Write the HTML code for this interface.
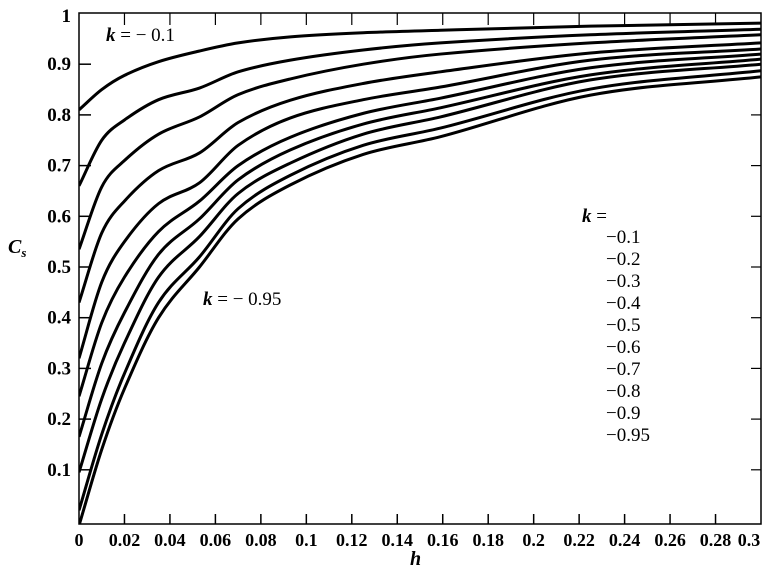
<!DOCTYPE html>
<html><head><meta charset="utf-8"><style>
body{margin:0;background:#fff}
svg{display:block;font-family:"Liberation Serif",serif}
</style></head><body>
<svg id="chart" width="771" height="575" xmlns="http://www.w3.org/2000/svg">
<defs><clipPath id="pc"><rect x="79" y="13" width="682" height="511"/></clipPath></defs>
<rect x="79" y="13" width="682" height="511" fill="none" stroke="#000" stroke-width="1.5"/>
<g id="axes"></g>
<g id="series" clip-path="url(#pc)"></g>
<text x="8" y="253" font-size="20" font-style="italic" font-weight="bold">C<tspan font-size="13" dy="4">s</tspan></text>
<text x="410" y="565" font-size="20" font-style="italic" font-weight="bold">h</text>
<text x="106" y="41" font-size="19"><tspan font-style="italic" font-weight="bold">k</tspan> = − 0.1</text>
<text x="203" y="305" font-size="19"><tspan font-style="italic" font-weight="bold">k</tspan> = − 0.95</text>
<g id="legend" font-size="19">
<text x="582" y="222"><tspan font-style="italic" font-weight="bold">k</tspan> =</text>
</g>
</svg>
<script>
const hValues=[0,0.01,0.02,0.035,0.053,0.07,0.093,0.125,0.159,0.225,0.3];
const kLabels=["−0.1","−0.2","−0.3","−0.4","−0.5","−0.6","−0.7","−0.8","−0.9","−0.95"];
const sK01=[0.81,0.85,0.878,0.905,0.926,0.942,0.954,0.962,0.967,0.975,0.981];
const sK02=[0.66,0.75,0.79,0.83,0.853,0.885,0.908,0.928,0.942,0.958,0.969];
const sK03=[0.535,0.658,0.71,0.762,0.796,0.84,0.871,0.9,0.92,0.942,0.958];
const sK04=[0.43,0.567,0.63,0.69,0.725,0.785,0.829,0.862,0.885,0.922,0.942];
const sK05=[0.32,0.47,0.55,0.625,0.666,0.74,0.794,0.83,0.855,0.908,0.93];
const sK06=[0.245,0.39,0.48,0.57,0.63,0.7,0.756,0.803,0.833,0.893,0.92];
const sK07=[0.165,0.31,0.41,0.525,0.595,0.672,0.731,0.782,0.814,0.879,0.91];
const sK08=[0.095,0.24,0.35,0.48,0.56,0.645,0.705,0.762,0.796,0.869,0.9];
const sK09=[0.02,0.17,0.29,0.43,0.52,0.615,0.681,0.74,0.774,0.851,0.887];
const sK095=[-0.01,0.14,0.26,0.4,0.5,0.595,0.662,0.722,0.757,0.839,0.875];
const seriesList=[sK01,sK02,sK03,sK04,sK05,sK06,sK07,sK08,sK09,sK095];
const xTicks=[0,0.02,0.04,0.06,0.08,0.1,0.12,0.14,0.16,0.18,0.2,0.22,0.24,0.26,0.28,0.3];
const xTickLabels=["0","0.02","0.04","0.06","0.08","0.1","0.12","0.14","0.16","0.18","0.2","0.22","0.24","0.26","0.28","0.3"];
const yTicks=[0.1,0.2,0.3,0.4,0.5,0.6,0.7,0.8,0.9,1];
const yTickLabels=["0.1","0.2","0.3","0.4","0.5","0.6","0.7","0.8","0.9","1"];

const NS="http://www.w3.org/2000/svg";
const X=h=>79+h*(682/0.3);
const Y=v=>520.5-v*507;
function mk(tag,attrs,parent){const e=document.createElementNS(NS,tag);for(const k in attrs)e.setAttribute(k,attrs[k]);parent.appendChild(e);return e;}
const axes=document.getElementById('axes');
xTicks.forEach((t,i)=>{
  const x=X(t);
  if(i>0&&i<xTicks.length-1){
    const a=mk('line',{x1:x,y1:524,x2:x,y2:514,stroke:'#000','stroke-width':1.5},axes);
    
    
    const b=mk('line',{x1:x,y1:13,x2:x,y2:25,stroke:'#000','stroke-width':1.2},axes);
    
    
  }
  const tx=mk('text',{x:i===xTicks.length-1?x-12:x,y:546,'font-size':18,'font-weight':'bold','text-anchor':'middle'},axes);
  tx.textContent=xTickLabels[i];
  
  
});
yTicks.forEach((t,i)=>{
  const y=Y(t);
  if(t<1){
    const a=mk('line',{x1:79,y1:y,x2:91,y2:y,stroke:'#000','stroke-width':1.5},axes);
    
    
    const b=mk('line',{x1:761,y1:y,x2:751,y2:y,stroke:'#000','stroke-width':1.2},axes);
    
    
  }
  const tx=mk('text',{x:71,y:t>=1?22:y+6,'font-size':19,'font-weight':'bold','text-anchor':'end'},axes);
  tx.textContent=yTickLabels[i];
  
  
});
const sg=document.getElementById('series');
seriesList.forEach((s,si)=>{
  const pts=s.map((v,i)=>[X(hValues[i]),Y(v)]);
  const n=pts.length;
  const m=pts.map((p,i)=>{
    const a=pts[Math.max(0,i-1)],b=pts[Math.min(n-1,i+1)];
    return (b[1]-a[1])/(b[0]-a[0]);
  });
  let d='M'+pts[0][0]+','+pts[0][1];
  for(let i=0;i<n-1;i++){
    const p1=pts[i],p2=pts[i+1],dx=(p2[0]-p1[0])/3;
    d+=' C'+(p1[0]+dx)+','+(p1[1]+m[i]*dx)+' '+(p2[0]-dx)+','+(p2[1]-m[i+1]*dx)+' '+p2[0]+','+p2[1];
  }
  const p=mk('path',{d:d,fill:'none',stroke:'#000','stroke-width':3},sg);
  
  
});
const lg=document.getElementById('legend');
kLabels.forEach((l,i)=>{
  const t=mk('text',{x:606,y:243+i*22},lg);
  t.textContent=l;
  
  
});
</script>
</body></html>
